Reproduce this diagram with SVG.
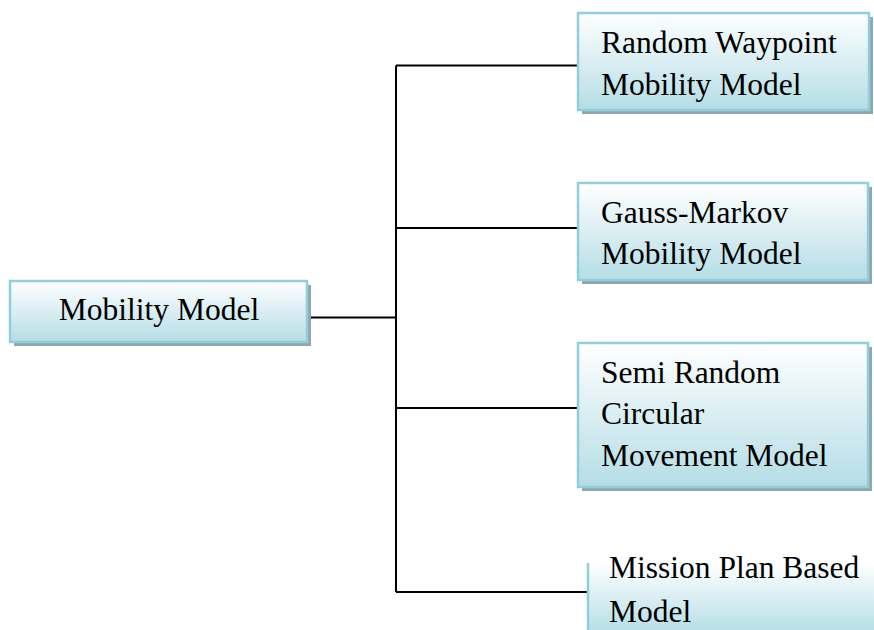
<svg xmlns="http://www.w3.org/2000/svg" width="874" height="630" viewBox="0 0 874 630">
<defs>
<linearGradient id="g" x1="0" y1="0" x2="0" y2="1">
<stop offset="0" stop-color="#ffffff"/>
<stop offset="1" stop-color="#b5dde6"/>
</linearGradient>
<style>
.box{fill:url(#g);stroke:#92cddb;stroke-width:2.5}
.sh{fill:#8fa7ae}
.t{font-family:"Liberation Serif","Times New Roman",serif;font-size:31.5px;fill:#000}
.c{stroke:#000;stroke-width:2;fill:none}
</style>
</defs>
<rect width="874" height="630" fill="#fff"/>
<g id="connectors">
<path class="c" d="M307 317.5H396M396 65.5V592M396 65.5H579M396 228H579M396 408H579M396 592H588"/>
</g>
<g id="mobility-model">
<rect class="sh" x="14" y="285" width="297" height="61"/>
<rect class="box" x="10" y="281" width="297" height="61"/>
<text class="t" x="159" y="320" text-anchor="middle">Mobility Model</text>
</g>
<g id="random-waypoint">
<rect class="sh" x="582" y="17" width="291" height="97"/>
<rect class="box" x="578" y="13" width="291" height="97"/>
<text class="t" x="601" y="53">Random Waypoint</text>
<text class="t" x="601" y="95">Mobility Model</text>
</g>
<g id="gauss-markov">
<rect class="sh" x="582" y="187" width="290" height="97"/>
<rect class="box" x="578" y="183" width="290" height="97"/>
<text class="t" x="601" y="223">Gauss-Markov</text>
<text class="t" x="601" y="264">Mobility Model</text>
</g>
<g id="semi-random">
<rect class="sh" x="582" y="347" width="290" height="144"/>
<rect class="box" x="578" y="343" width="290" height="144"/>
<text class="t" x="601" y="383">Semi Random</text>
<text class="t" x="601" y="424">Circular</text>
<text class="t" x="601" y="466">Movement Model</text>
</g>
<g id="mission-plan">
<rect x="588" y="563" width="290" height="70" fill="url(#g)"/>
<path d="M588 563V632" stroke="#92cddb" stroke-width="2.5" fill="none"/>
<text class="t" x="609" y="578">Mission Plan Based</text>
<text class="t" x="609" y="622">Model</text>
</g>
</svg>
